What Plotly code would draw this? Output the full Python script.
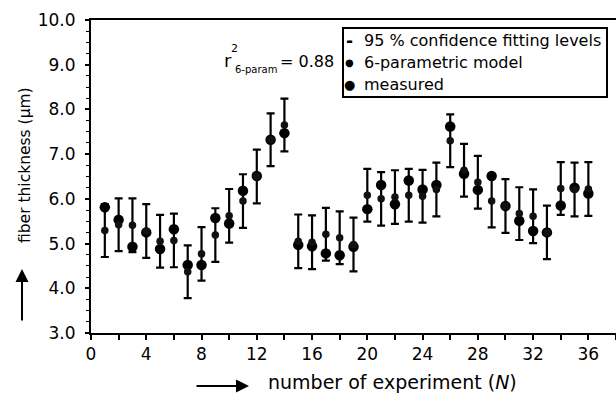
import plotly.graph_objects as go

experiments = list(range(1, 37))
measured = [5.81, 5.53, 4.93, 5.25, 4.88, 5.32, 4.52, 4.52, 5.57, 5.45, 6.18, 6.51,
            7.32, 7.47, 4.97, 4.94, 4.78, 4.74, 4.93, 5.77, 6.31, 5.88, 6.41, 6.21,
            6.31, 7.62, 6.56, 6.20, 6.51, 5.84, 5.51, 5.28, 5.25, 5.85, 6.25, 6.12]
model = [5.29, 5.42, 5.41, 5.28, 5.05, 5.07, 4.37, 4.77, 5.19, 5.62, 5.95, 6.50,
         7.32, 7.65, 5.05, 5.03, 5.21, 5.13, 4.98, 6.08, 6.00, 6.04, 6.08, 6.06,
         6.21, 7.30, 6.64, 6.37, 5.95, 5.84, 5.67, 5.61, 5.25, 6.23, 6.21, 6.22]
ci_half = [0.59, 0.59, 0.60, 0.60, 0.59, 0.60, 0.59, 0.60, 0.60, 0.60, 0.60, 0.60,
           0.59, 0.59, 0.60, 0.60, 0.59, 0.59, 0.60, 0.59, 0.60, 0.60, 0.59, 0.59,
           0.60, 0.59, 0.59, 0.59, 0.59, 0.60, 0.59, 0.60, 0.60, 0.59, 0.60, 0.60]
x_ticks = [0, 4, 8, 12, 16, 20, 24, 28, 32, 36]
y_ticks = [3.0, 4.0, 5.0, 6.0, 7.0, 8.0, 9.0, 10.0]

FONT = "DejaVu Sans"
W, H = 616, 397
L, R, T, B = 91, 0, 20, 64
PW, PH = W - L - R, H - T - B


def px(xp):
    return (xp - L) / PW


def py(yp):
    return (H - B - yp) / PH


fig = go.Figure()

fig.add_trace(go.Scatter(
    x=experiments, y=model, mode="markers",
    marker=dict(size=1, color="rgba(0,0,0,0)"),
    error_y=dict(type="data", array=ci_half, visible=True,
                 color="black", thickness=2.2, width=4),
    showlegend=False, hoverinfo="skip"))

fig.add_trace(go.Scatter(
    x=experiments, y=measured, mode="markers", name="measured",
    marker=dict(size=10.5, color="black"), showlegend=False))

fig.add_trace(go.Scatter(
    x=experiments, y=model, mode="markers", name="6-parametric model",
    marker=dict(size=7.5, color="#111", line=dict(width=0)),
    showlegend=False))

tickfont = dict(family=FONT, size=17, color="black")

fig.update_xaxes(
    range=[0, 38], tickvals=x_ticks, ticks="outside", ticklen=5, tickwidth=1.5,
    tickcolor="black", showline=True, linecolor="black", linewidth=2, mirror=True,
    showgrid=False, zeroline=False, tickfont=tickfont,
    minor=dict(dtick=2, ticks="outside", ticklen=5, tickwidth=1.5, tickcolor="black"))
fig.update_yaxes(
    range=[3, 10], tickvals=y_ticks, tickformat=".1f", ticks="outside", ticklen=4,
    tickwidth=1.5, tickcolor="black", showline=True, linecolor="black", linewidth=2,
    mirror=False, showgrid=False, zeroline=False, tickfont=tickfont,
    ticklabelstandoff=6,
    minor=dict(dtick=0.25, ticks="outside", ticklen=3, tickwidth=1, tickcolor="black"))

ann = []
# axis titles
ann.append(dict(text="fiber thickness (µm)", xref="paper", yref="paper",
                x=px(25), y=py(165), textangle=-90, showarrow=False,
                font=dict(family=FONT, size=15.5, color="black"),
                xanchor="center", yanchor="middle"))
ann.append(dict(text="number of experiment (<i>N</i>)", xref="paper", yref="paper",
                x=px(392), y=py(382), showarrow=False,
                font=dict(family=FONT, size=19, color="black"),
                xanchor="center", yanchor="middle"))
# arrows
ann.append(dict(text="", xref="paper", yref="paper", x=px(249), y=py(386),
                ax=-54, ay=0, showarrow=True, arrowhead=2, arrowsize=1.3,
                arrowwidth=2, arrowcolor="black"))
ann.append(dict(text="", xref="paper", yref="paper", x=px(22), y=py(269),
                ax=0, ay=53, showarrow=True, arrowhead=2, arrowsize=1.3,
                arrowwidth=2, arrowcolor="black"))
# r^2 label
ann.append(dict(text="r", xref="paper", yref="paper", x=px(222), y=py(60),
                showarrow=False, xanchor="left", yanchor="middle",
                font=dict(family=FONT, size=18, color="black")))
ann.append(dict(text="2", xref="paper", yref="paper", x=px(229), y=py(48),
                showarrow=False, xanchor="left", yanchor="middle",
                font=dict(family=FONT, size=11, color="black")))
ann.append(dict(text="6-param", xref="paper", yref="paper", x=px(233), y=py(70),
                showarrow=False, xanchor="left", yanchor="middle",
                font=dict(family=FONT, size=10, color="black")))
ann.append(dict(text="= 0.88", xref="paper", yref="paper", x=px(278), y=py(62),
                showarrow=False, xanchor="left", yanchor="middle",
                font=dict(family=FONT, size=16, color="black")))
# legend (text based)
leg_items = [("<b>-</b>", "95 % confidence fitting levels", 40.5, 17),
             ("●", "6-parametric model", 62.5, 10),
             ("●", "measured", 84.5, 13)]
for sym, label, yy, ss in leg_items:
    ann.append(dict(text=sym, xref="paper", yref="paper", x=px(349), y=py(yy),
                    showarrow=False, xanchor="center", yanchor="middle",
                    font=dict(family=FONT, size=ss, color="black")))
    ann.append(dict(text=label, xref="paper", yref="paper", x=px(362), y=py(yy),
                    showarrow=False, xanchor="left", yanchor="middle",
                    font=dict(family=FONT, size=16, color="black")))

shapes = [dict(type="rect", xref="paper", yref="paper", x0=px(343), x1=px(607),
               y0=py(28), y1=py(97), line=dict(color="black", width=2),
               fillcolor="white", layer="below")]

fig.update_layout(
    width=W, height=H, margin=dict(l=L, r=R, t=T, b=B, pad=0),
    paper_bgcolor="white", plot_bgcolor="white",
    annotations=ann, shapes=shapes, showlegend=False,
    font=dict(family=FONT, color="black"))

fig.write_html("out.html")
